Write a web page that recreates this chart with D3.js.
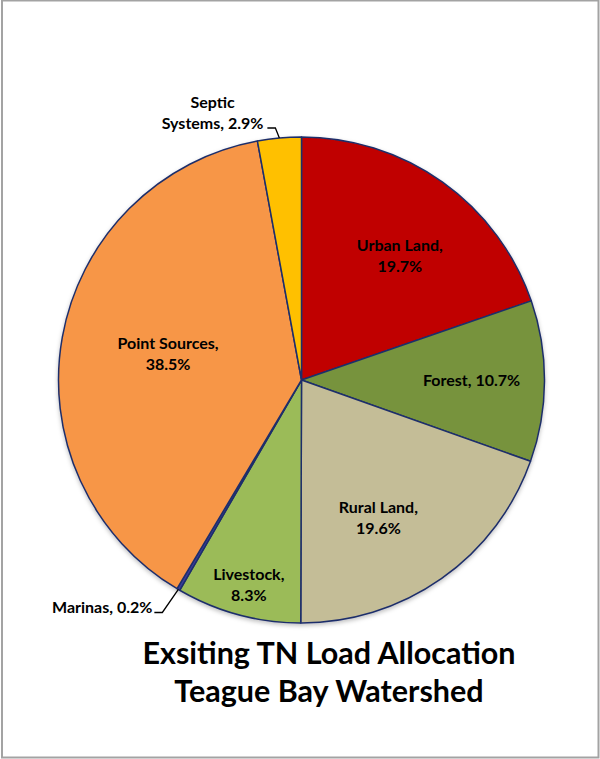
<!DOCTYPE html>
<html>
<head>
<meta charset="utf-8">
<script src="https://cdn.jsdelivr.net/npm/d3@7/dist/d3.min.js"></script>
<style>
  body { margin: 0; background: #fff; }
  svg text { font-family: Lato, "Open Sans", sans-serif; font-weight: bold; fill: #000; }
</style>
</head>
<body>
<svg id="chart" width="600" height="759"></svg>
<script>
// data
const categories = ['Urban Land', 'Forest', 'Rural Land', 'Livestock', 'Marinas', 'Point Sources', 'Septic Systems'];
const shares = [19.7, 10.7, 19.6, 8.3, 0.2, 38.5, 2.9];
const sliceColors = ['#C00000', '#77933C', '#C4BD97', '#9BBB59', '#3A3A9C', '#F79646', '#FFC000'];
const titleLines = ['Exsiting TN Load Allocation', 'Teague Bay Watershed'];

// how each data label is set (Excel "best fit" look)
const labelLayout = {
  'Urban Land':     { breakAt: 'comma', radius: 0.65, shift: 3 },
  'Forest':         { breakAt: 'none',  radius: 0.70, shift: 0 },
  'Rural Land':     { breakAt: 'comma', radius: 0.65, shift: 6 },
  'Livestock':      { breakAt: 'comma', radius: 0.87, shift: -0.7 },
  'Marinas':        { breakAt: 'none',  outside: 'left' },
  'Point Sources':  { breakAt: 'comma', radius: 0.56, shift: 1 },
  'Septic Systems': { breakAt: 'space', outside: 'top' }
};

const width = 600, height = 759;
const cx = 301.5, cy = 380, radius = 243;
const labelSize = 16, lineH = 21;

const svg = d3.select('#chart');

// page frame
svg.append('rect')
  .attr('x', 2).attr('y', 0.5)
  .attr('width', 596.5).attr('height', 757)
  .attr('fill', 'none')
  .attr('stroke', '#a3a3a3')
  .attr('stroke-width', 2);

const defs = svg.append('defs');
const shadow = defs.append('filter').attr('id', 'pie-shadow')
  .attr('x', '-10%').attr('y', '-10%').attr('width', '120%').attr('height', '120%');
shadow.append('feDropShadow')
  .attr('dx', 0).attr('dy', 2).attr('stdDeviation', 2)
  .attr('flood-color', '#000').attr('flood-opacity', 0.25);

const rows = categories.map((name, i) => ({ name, value: shares[i], color: sliceColors[i] }));

const pie = d3.pie().value(d => d.value).sort(null);
const arcs = pie(rows);
const arc = d3.arc().innerRadius(0).outerRadius(radius);

const g = svg.append('g').attr('transform', `translate(${cx},${cy})`);

g.append('g')
  .attr('filter', 'url(#pie-shadow)')
  .selectAll('path')
  .data(arcs)
  .enter()
  .append('path')
  .attr('d', arc)
  .attr('fill', d => d.data.color)
  .attr('stroke', '#1F2F6B')
  .attr('stroke-width', 1.5)
  .attr('stroke-linejoin', 'round');

// point on circle at angle a (radians, clockwise from 12 o'clock)
const polar = (a, r) => [Math.sin(a) * r, -Math.cos(a) * r];

function labelLines(d) {
  const text = `${d.data.name}, ${d.data.value.toFixed(1)}%`;
  const mode = labelLayout[d.data.name].breakAt;
  if (mode === 'comma') return [`${d.data.name},`, `${d.data.value.toFixed(1)}%`];
  if (mode === 'space') {
    const k = text.indexOf(' ');
    return [text.slice(0, k), text.slice(k + 1)];
  }
  return [text];
}

function writeLines(sel, lines, x, yMid, anchor) {
  const t = sel.append('text')
    .attr('text-anchor', anchor)
    .attr('font-size', labelSize);
  const y0 = yMid - (lines.length - 1) * lineH / 2 + labelSize * 0.35;
  lines.forEach((s, i) => {
    t.append('tspan').attr('x', x).attr('y', y0 + i * lineH).text(s);
  });
  return t;
}

const labels = g.append('g');

arcs.forEach(d => {
  const lay = labelLayout[d.data.name];
  const mid = (d.startAngle + d.endAngle) / 2;
  const lines = labelLines(d);

  if (!lay.outside) {
    const [x, y] = polar(mid + lay.shift * Math.PI / 180, radius * lay.radius);
    writeLines(labels, lines, x, y, 'middle');
    return;
  }

  const [ex, ey] = polar(mid, radius);
  let path;
  if (lay.outside === 'left') {
    path = [[ex, ey], [ex - 16, ey + 23], [ex - 24, ey + 23]];
    writeLines(labels, lines, ex - 26, ey + 18, 'end');
  } else {
    path = [[ex, ey], [ex - 4, ey - 10], [ex - 12, ey - 10]];
    const t = writeLines(labels, lines, 0, ey - 25, 'middle');
    const w = d3.max(t.selectAll('tspan').nodes(), n => n.getComputedTextLength());
    t.selectAll('tspan').attr('x', ex - 16 - w / 2);
  }
  labels.append('path')
    .attr('d', d3.line()(path))
    .attr('fill', 'none')
    .attr('stroke', '#000')
    .attr('stroke-width', 1.3);
});

// title
const title = svg.append('text')
  .attr('text-anchor', 'middle')
  .attr('font-size', 30.5);
titleLines.forEach((s, i) => {
  title.append('tspan')
    .attr('x', 329)
    .attr('y', 664 + i * 38)
    .text(s);
});
</script>
</body>
</html>
